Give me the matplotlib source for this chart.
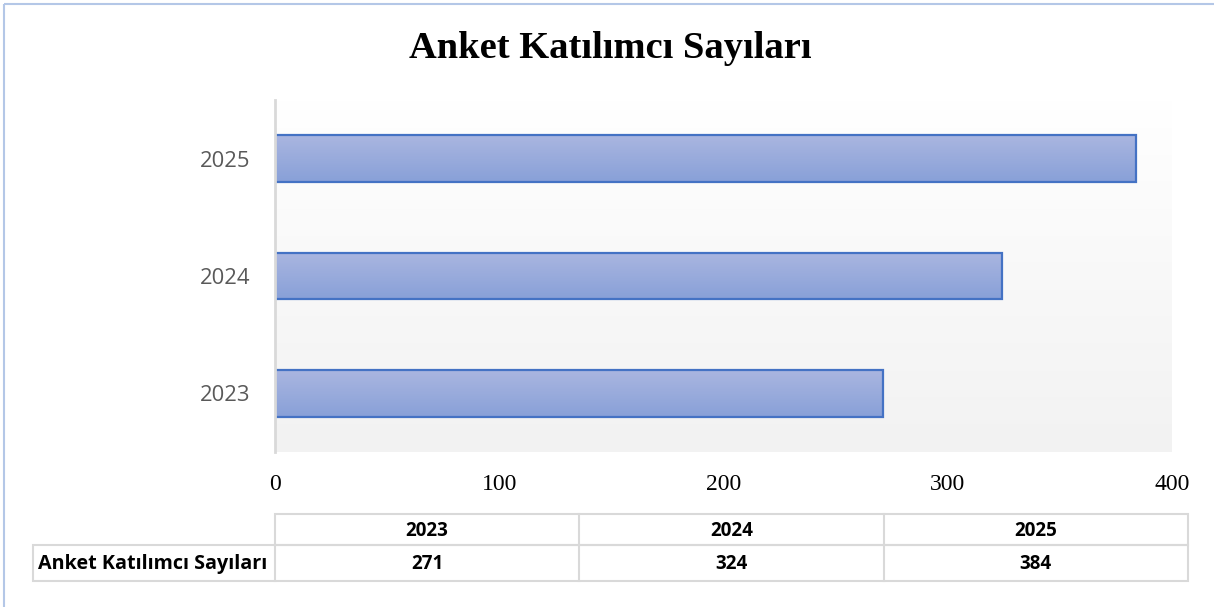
import numpy as np
import matplotlib
matplotlib.use("Agg")
import matplotlib.pyplot as plt
from matplotlib.patches import Rectangle
from matplotlib.colors import LinearSegmentedColormap

# data
years = ["2023", "2024", "2025"]
counts = [271, 324, 384]
series_name = "Anket Katılımcı Sayıları"
title = "Anket Katılımcı Sayıları"
x_ticks = [0, 100, 200, 300, 400]

W, H = 1214, 607
fig = plt.figure(figsize=(W / 100, H / 100), dpi=100)


def fx(px):
    return px / W


def fy(py):
    return 1 - py / H


# chart border (light blue, runs off right and bottom)
border = fig.add_axes([0, 0, 1, 1], zorder=-5)
border.set_xlim(0, W)
border.set_ylim(H, 0)
border.axis("off")
border.add_patch(Rectangle((4, 4), W + 20, H + 20, fill=False,
                           edgecolor="#b4c7e7", linewidth=1.5))

# plot area
ax_l, ax_r, ax_t, ax_b = 275, 1172, 100, 452
ax = fig.add_axes([fx(ax_l), fy(ax_b), fx(ax_r - ax_l), (ax_b - ax_t) / H])
ax.set_xlim(0, 400)
ax.set_ylim(-0.5, len(years) - 0.5)

bg = LinearSegmentedColormap.from_list("bg", ["#f2f2f2", "#ffffff"])
grad = np.linspace(0, 1, 256).reshape(-1, 1)
ax.imshow(grad, cmap=bg, aspect="auto", origin="lower",
          extent=(0, 400, -0.5, len(years) - 0.5), zorder=0)

bar_cmap = LinearSegmentedColormap.from_list("bar", ["#88a0d8", "#aab6e0"])
bars = ax.barh(range(len(years)), counts, height=0.4, color="none",
               edgecolor="#4472c4", linewidth=1.6, zorder=3)
for b in bars:
    x0, y0 = b.get_x(), b.get_y()
    im = ax.imshow(grad, cmap=bar_cmap, aspect="auto", origin="lower",
                   extent=(x0, x0 + b.get_width(), y0, y0 + b.get_height()),
                   zorder=2)
    im.set_clip_path(b)
ax.set_xlim(0, 400)
ax.set_ylim(-0.5, len(years) - 0.5)

for s in ["top", "right", "bottom"]:
    ax.spines[s].set_visible(False)
ax.spines["left"].set_color("#d9d9d9")
ax.spines["left"].set_linewidth(2)
ax.spines["left"].set_zorder(4)

ax.set_yticks(range(len(years)))
ax.set_yticklabels(years, family="Open Sans", fontsize=15.8, color="#595959")
ax.set_xticks(x_ticks)
ax.set_xticklabels([str(t) for t in x_ticks], family="Liberation Serif",
                   fontsize=17, color="#000000")
ax.tick_params(axis="y", length=0, pad=18)
ax.tick_params(axis="x", length=0, pad=16)

fig.text(fx(610), fy(49), title, ha="center", va="center",
         family="Liberation Serif", weight="bold", fontsize=27.7)

# data table below the chart
tab = fig.add_axes([0, 0, 1, 1], zorder=5)
tab.set_xlim(0, W)
tab.set_ylim(H, 0)
tab.axis("off")
grid = "#d9d9d9"
lbl_l, col0, col_end = 33, 275, 1188
r0, r1, r2 = 514, 545, 581
col_w = (col_end - col0) / len(years)
tab.add_patch(Rectangle((col0, r0), col_end - col0, r1 - r0, fill=False,
                        edgecolor=grid, linewidth=1.5))
tab.add_patch(Rectangle((lbl_l, r1), col_end - lbl_l, r2 - r1, fill=False,
                        edgecolor=grid, linewidth=1.5))
for i in range(1, len(years)):
    xc = col0 + i * col_w
    tab.plot([xc, xc], [r0, r2], color=grid, linewidth=1.5)
tab.plot([col0, col0], [r1, r2], color=grid, linewidth=1.5)

nfont = dict(family="Open Sans", weight="bold", fontsize=13.5, color="#000000")
for i, (yr, n) in enumerate(zip(years, counts)):
    xc = col0 + (i + 0.5) * col_w
    tab.text(xc, (r0 + r1) / 2 + 1, yr, ha="center", va="center", **nfont)
    tab.text(xc, (r1 + r2) / 2 + 1, str(n), ha="center", va="center", **nfont)
tab.text(lbl_l + 5, (r1 + r2) / 2 + 1, series_name, ha="left", va="center",
         family="Open Sans", weight="bold", fontsize=14.2, color="#000000")

fig.savefig("out.png", dpi=100, facecolor="white")
